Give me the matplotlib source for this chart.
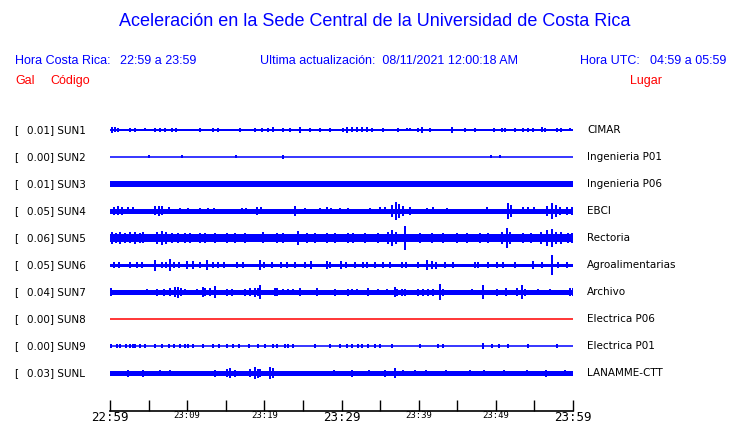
import numpy as np
from matplotlib import pyplot as plt

# estaciones
codigos = ['SUN1', 'SUN2', 'SUN3', 'SUN4', 'SUN5', 'SUN6', 'SUN7', 'SUN8', 'SUN9', 'SUNL']
gal = ['0.01', '0.00', '0.01', '0.05', '0.06', '0.05', '0.04', '0.00', '0.00', '0.03']
lugares = ['CIMAR', 'Ingenieria P01', 'Ingenieria P06', 'EBCI', 'Rectoria',
           'Agroalimentarias', 'Archivo', 'Electrica P06', 'Electrica P01', 'LANAMME-CTT']
colores = ['blue'] * 7 + ['red'] + ['blue'] * 2

# nivel de ruido base de cada traza (semi-ancho en px)
ruido_base = [1.0, 0.5, 2.8, 2.5, 4.0, 1.5, 2.5, 0.5, 0.7, 2.5]

# picos de cada traza: (minuto desde 22:59, semi-amplitud en px)
picos = [
    [(0.2, 3), (0.6, 2.5), (1.0, 2), (2.6, 2), (3.2, 2), (4.5, 1.5), (5.8, 2), (6.5, 2), (7.1, 2),
     (8.0, 1.8), (8.6, 1.8), (11.7, 2), (13.3, 2), (14.0, 2), (16.8, 1.8), (18.8, 1.8), (19.7, 1.8),
     (20.5, 2), (21.1, 2.5), (22.4, 2), (23.3, 2), (24.6, 3), (25.9, 1.8), (27.2, 2), (28.5, 1.8),
     (30.2, 2), (30.7, 3), (31.4, 2.5), (32.0, 2.5), (32.6, 2.5), (33.3, 2.5), (34.0, 1.8), (35.4, 1.8),
     (37.3, 2), (38.5, 1.5), (38.9, 1.5), (39.9, 1.8), (40.4, 3), (41.5, 1.8), (44.3, 3), (46.0, 1.8),
     (47.3, 1.8), (49.8, 2), (50.8, 1.8), (51.2, 1.8), (52.5, 1.8), (53.5, 2), (54.2, 2), (54.8, 1.8),
     (56.0, 2.5), (56.4, 1.8), (57.9, 2), (58.5, 2), (59.6, 1.5)],
    [(5.1, 1.5), (9.3, 1.5), (16.3, 1.5), (22.4, 1.8), (49.4, 1.5), (50.5, 1.5)],
    [(57.0, 3.2)],
    [(0.5, 4), (1.0, 4.5), (1.6, 4), (2.3, 3.5), (3.0, 3.5), (5.8, 4.5), (6.3, 5), (6.8, 4.5), (7.6, 3.5),
     (9.1, 3), (10.1, 3), (11.7, 3), (12.7, 3), (13.5, 3), (17.1, 3), (17.6, 3), (19.0, 4), (19.6, 3.5),
     (24.0, 5), (25.3, 3), (27.2, 3), (28.1, 3.5), (28.7, 3), (29.8, 3), (30.8, 3), (33.7, 3), (35.0, 3.5),
     (35.6, 3.5), (36.5, 6), (37.0, 9), (37.5, 7), (38.0, 5), (38.9, 4), (41.1, 3), (41.9, 3.5), (43.7, 3),
     (48.9, 3.5), (51.6, 8), (52.0, 6), (53.5, 3.5), (54.2, 3.5), (55.0, 3.5), (56.6, 5), (57.3, 8),
     (57.8, 6), (58.3, 4), (59.2, 4), (59.9, 4)],
    [(0.3, 6), (0.8, 5), (1.3, 6), (2.0, 5), (2.6, 5.5), (3.2, 6), (3.9, 5), (4.3, 5.5), (6.1, 6), (6.7, 7),
     (7.3, 6), (8.0, 5), (8.8, 5), (9.7, 5), (10.4, 4.5), (11.7, 5), (12.3, 4.5), (13.6, 4.5), (15.2, 5),
     (16.2, 4.5), (17.5, 4.5), (19.8, 5.5), (21.6, 4.5), (22.4, 4.5), (24.4, 7), (25.5, 5), (26.6, 4.5),
     (28.1, 5), (29.2, 4.5), (30.8, 5), (31.5, 5), (33.0, 5), (34.7, 4.5), (36.0, 6), (36.5, 8), (37.0, 6),
     (38.2, 12), (40.2, 5), (41.7, 5), (43.2, 4.5), (45.0, 4.5), (46.2, 4.5), (47.9, 5), (49.0, 5),
     (50.8, 6), (51.4, 10), (51.9, 6), (53.5, 5), (54.5, 5), (55.8, 6), (56.6, 8), (57.3, 9), (57.8, 6),
     (58.5, 6), (59.4, 5), (59.9, 5)],
    [(0.5, 3), (1.2, 3), (2.6, 3), (3.5, 3), (4.1, 3), (5.8, 5.5), (6.7, 3), (7.3, 3), (7.8, 6), (8.3, 3),
     (9.0, 3), (10.0, 4), (10.7, 4), (11.7, 3), (12.6, 5), (13.3, 3), (14.0, 3), (14.8, 3), (16.5, 3),
     (17.3, 3), (19.4, 5), (20.0, 3), (21.0, 3), (22.2, 3), (23.0, 3), (24.0, 3), (25.3, 3), (26.0, 4),
     (28.1, 4), (28.5, 3), (29.9, 4), (30.6, 3), (31.7, 3), (32.8, 3), (33.3, 3), (34.3, 3), (35.4, 3),
     (36.3, 3), (37.8, 3), (38.3, 3), (39.9, 3), (41.1, 5), (41.7, 4), (42.3, 3.5), (43.4, 3), (44.4, 3),
     (47.3, 3), (47.7, 3), (49.0, 3), (50.2, 3), (50.9, 3), (52.5, 3), (54.8, 4), (56.0, 3), (57.3, 10),
     (58.0, 3), (59.2, 3)],
    [(0.1, 4), (4.8, 2.8), (6.1, 3.5), (7.0, 3.5), (7.8, 4), (8.4, 5), (8.8, 5.5), (9.2, 4), (9.7, 3),
     (11.3, 3), (12.0, 5), (12.3, 4), (13.0, 4), (13.6, 6), (15.2, 3.5), (15.8, 3.5), (17.5, 3.5),
     (18.1, 4), (18.8, 4.5), (19.2, 4), (19.4, 7), (21.4, 4), (21.6, 4), (22.4, 3), (23.1, 3), (23.7, 2.8),
     (24.6, 4), (26.8, 4), (29.2, 3.5), (30.8, 3.5), (31.4, 2.8), (32.0, 2.8), (33.4, 4), (34.7, 3),
     (35.9, 2.8), (36.9, 5), (37.2, 3.5), (37.8, 3.5), (38.2, 3.5), (39.9, 3.5), (40.6, 3.5), (41.2, 3.5),
     (41.9, 3.5), (42.8, 8), (43.2, 3.5), (46.9, 2.8), (48.3, 7), (50.2, 3.5), (51.3, 4), (52.7, 4),
     (53.4, 7), (53.8, 3.5), (55.5, 2.8), (57.0, 2.8), (59.6, 4), (60.0, 4)],
    [],
    [(0.1, 2), (0.9, 2), (1.3, 2), (2.1, 2), (2.6, 2), (3.0, 2), (3.2, 2), (3.9, 2), (4.5, 2), (5.8, 2),
     (6.7, 2), (7.6, 2), (8.3, 2), (9.1, 2), (9.7, 2), (10.1, 2), (10.8, 2), (12.1, 2), (13.3, 2),
     (14.1, 2), (15.2, 2), (15.9, 2), (16.7, 2), (18.0, 2), (19.2, 2), (20.1, 2), (21.1, 2), (21.6, 2),
     (22.7, 2), (23.1, 2), (23.7, 2), (26.6, 2), (28.5, 2), (29.8, 2), (30.7, 2), (31.4, 2), (32.1, 2),
     (32.7, 2), (33.4, 2), (34.3, 2), (35.0, 2), (36.5, 2), (40.2, 2), (42.5, 2), (43.1, 2), (48.3, 3),
     (49.5, 2), (50.4, 2), (51.6, 2), (54.2, 2), (57.9, 2)],
    [(2.3, 3.5), (4.3, 3.5), (6.5, 3), (7.8, 3), (13.6, 3.5), (15.2, 4), (15.6, 5), (16.2, 3.5), (18.1, 4),
     (18.8, 6), (19.2, 4.5), (19.4, 4), (20.7, 6), (21.1, 5), (29.0, 3.2), (31.4, 3.5), (33.5, 3),
     (35.6, 3.5), (36.9, 5), (38.0, 3), (39.5, 3), (41.0, 3), (43.5, 3), (46.6, 3), (48.5, 3), (51.0, 3),
     (54.0, 3), (56.5, 3.5), (59.0, 3)],
]

# eje de tiempo
ticks_min = np.arange(0, 61, 5)
ticks_txt = ['22:59', '', '23:09', '', '23:19', '', '23:29', '', '23:39', '', '23:49', '', '23:59']
ticks_grandes = ['22:59', '23:29', '23:59']

W, H = 740, 423
SEP = 27.0  # px entre trazas
fig = plt.figure(figsize=(W / 100, H / 100), dpi=100)

def px(x, y):
    return x / W, 1 - y / H

# area de trazas: x 110..573, y 117..411 px
ax = fig.add_axes([110 / W, 12 / H, 463 / W, 294 / H])
ax.set_xlim(0, 60)
ax.set_ylim((411 - 130) / SEP, (117 - 130) / SEP)
for s in ['top', 'left', 'right']:
    ax.spines[s].set_visible(False)
ax.spines['bottom'].set_linewidth(1.2)
ax.set_yticks([])
ax.set_xticks(ticks_min)
ax.set_xticklabels(ticks_txt, family='DejaVu Sans Mono')
ax.tick_params(axis='x', direction='in', length=8, width=1, pad=0)
for lab in ax.get_xticklabels():
    if lab.get_text() in ticks_grandes:
        lab.set_fontsize(9)
    else:
        lab.set_fontsize(6.5)

for i in range(len(codigos)):
    b = ruido_base[i]
    if b < 1:
        # trazas casi planas: linea fina
        ax.hlines(i, 0, 60, color=colores[i], lw=1.1, antialiased=True)
    else:
        ax.hlines(i, 0, 60, color=colores[i], lw=2 * b * 0.72, antialiased=False)
    if picos[i]:
        m = np.array([p[0] for p in picos[i]])
        a = np.array([p[1] for p in picos[i]]) / SEP
        ax.vlines(m, i - a, i + a, color=colores[i], lw=1.44, antialiased=False)
    y = 130 + SEP * i
    fig.text(*px(14, y), '[', fontsize=7.5, va='center', color='black')
    fig.text(*px(27, y), gal[i] + '] ' + codigos[i], fontsize=7.5, va='center', color='black')
    fig.text(*px(587, y), lugares[i], fontsize=7.5, va='center', color='black')

azul = '#0000ff'
rojo = '#ff0000'
f = 'Liberation Sans'
fig.text(*px(375, 22), 'Aceleración en la Sede Central de la Universidad de Costa Rica',
         fontsize=13, family=f, color=azul, ha='center', va='center')
fig.text(*px(15, 61), 'Hora Costa Rica:', fontsize=9, family=f, color=azul, va='center')
fig.text(*px(120, 61), '22:59 a 23:59', fontsize=9, family=f, color=azul, va='center')
fig.text(*px(260, 61), 'Ultima actualización:  08/11/2021 12:00:18 AM', fontsize=9, family=f,
         color=azul, va='center')
fig.text(*px(580, 61), 'Hora UTC:', fontsize=9, family=f, color=azul, va='center')
fig.text(*px(650, 61), '04:59 a 05:59', fontsize=9, family=f, color=azul, va='center')
fig.text(*px(15, 81), 'Gal', fontsize=9, family=f, color=rojo, va='center')
fig.text(*px(50, 81), 'Código', fontsize=9, family=f, color=rojo, va='center')
fig.text(*px(630, 81), 'Lugar', fontsize=9, family=f, color=rojo, va='center')

fig.savefig('out.png', dpi=100)
